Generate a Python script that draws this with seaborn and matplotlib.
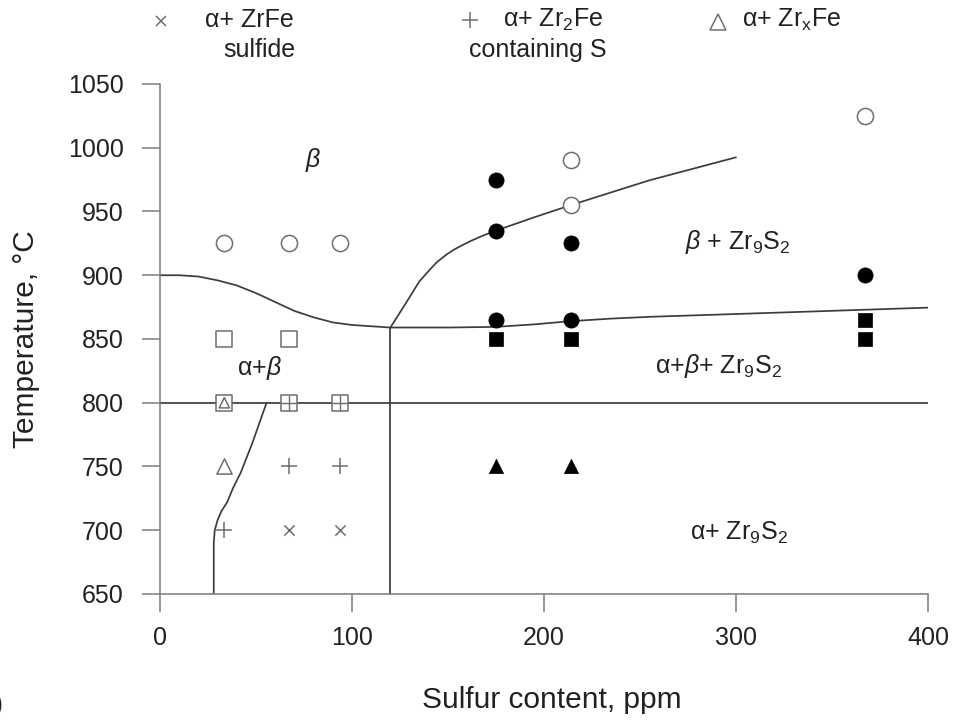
import matplotlib
matplotlib.use("Agg")
import matplotlib.pyplot as plt
from matplotlib.lines import Line2D
import seaborn as sns

# ---- phase boundaries (sulfur ppm, temperature °C) ----
beta_transus_x = [0, 10, 20, 30, 40, 50, 60, 70, 80, 90, 100, 110, 120]
beta_transus_y = [900, 900, 899, 896, 892, 886, 879, 872, 867, 863, 861, 860, 859]

eutectoid_x = [120, 150, 175, 195, 214, 235, 255, 300, 350, 400]
eutectoid_y = [859, 859, 859.5, 861.5, 864, 866, 867.4, 869.6, 872.1, 874.6]

sulfide_solvus_x = [120, 128, 135, 140, 144, 149, 153, 158, 162, 168, 175, 195, 214, 235, 255, 300]
sulfide_solvus_y = [859, 878, 895, 903.5, 910, 916, 920, 924, 927, 931, 935, 945.5, 955, 965, 974.5, 992.5]

low_s_x = [28, 28, 28.5, 30, 32, 35, 38, 42, 48, 55.5]
low_s_y = [650, 690, 700, 708, 715, 722, 733, 745, 768, 800]

vertical_x = [120, 120]
vertical_y = [650, 859]

isotherm_x = [0, 400]
isotherm_y = [800, 800]

# ---- observed phases ----
beta_x = [33.5, 67, 94, 214, 214, 367]
beta_y = [925, 925, 925, 990, 955, 1025]

alpha_beta_x = [33.5, 67, 33.5, 67, 94]
alpha_beta_y = [850, 850, 800, 800, 800]

zrxfe_x = [33.5]
zrxfe_y = [750]
zrxfe_mix_x = [33.5]
zrxfe_mix_y = [800]

zr2fe_x = [67, 94, 33.5]
zr2fe_y = [750, 750, 700]
zr2fe_mix_x = [67, 94]
zr2fe_mix_y = [800, 800]

zrfe_x = [67, 94]
zrfe_y = [700, 700]

beta_sulfide_x = [175, 175, 175, 214, 214, 367]
beta_sulfide_y = [975, 935, 865, 925, 865, 900]

ab_sulfide_x = [175, 214, 367, 367]
ab_sulfide_y = [850, 850, 865, 850]

a_sulfide_x = [175, 214]
a_sulfide_y = [750, 750]

x_ticks = [0, 100, 200, 300, 400]
y_ticks = [650, 700, 750, 800, 850, 900, 950, 1000, 1050]

# ---- style ----
sns.set_style("ticks")
plt.rcParams["font.family"] = ["Liberation Sans", "DejaVu Sans"]
plt.rcParams["mathtext.fontset"] = "custom"
plt.rcParams["mathtext.rm"] = "Liberation Sans"
plt.rcParams["mathtext.it"] = "Liberation Sans:italic"
plt.rcParams["mathtext.bf"] = "Liberation Sans:bold"

TEXT = "#222222"
GRAY = "#6e6e6e"
LINE = "#3c3c3c"
AXIS = "#7a7a7a"

fig = plt.figure(figsize=(9.54, 7.22), dpi=100)
ax = fig.add_axes([160 / 954, 1 - 594 / 722, 768 / 954, 510 / 722])

# boundaries
for bx, by in [(beta_transus_x, beta_transus_y), (eutectoid_x, eutectoid_y),
               (sulfide_solvus_x, sulfide_solvus_y), (low_s_x, low_s_y),
               (vertical_x, vertical_y), (isotherm_x, isotherm_y)]:
    sns.lineplot(x=bx, y=by, sort=False, estimator=None, color=LINE,
                 linewidth=1.25, ax=ax, zorder=2)


def dots(x, y, marker, s, face, edge, lw):
    sns.scatterplot(x=x, y=y, marker=marker, s=s, ax=ax, legend=False, zorder=4)
    pc = ax.collections[-1]
    pc.set_facecolor(face)
    pc.set_edgecolor(edge)
    pc.set_linewidth(lw)
    pc.set_clip_on(False)


# open (grey) symbols
dots(beta_x, beta_y, "o", 135, "white", GRAY, 1.1)
dots(alpha_beta_x, alpha_beta_y, "s", 140, "white", GRAY, 1.1)
dots(zrxfe_x, zrxfe_y, "^", 120, "white", GRAY, 1.1)
dots(zrxfe_mix_x, zrxfe_mix_y, "^", 55, "none", GRAY, 1.1)
dots(zr2fe_x, zr2fe_y, "+", 120, GRAY, GRAY, 1.1)
dots(zr2fe_mix_x, zr2fe_mix_y, "+", 140, GRAY, GRAY, 1.0)
dots(zrfe_x, zrfe_y, "x", 55, GRAY, GRAY, 1.1)

# filled (black) symbols
dots(beta_sulfide_x, beta_sulfide_y, "o", 120, "black", "black", 0.5)
dots(ab_sulfide_x, ab_sulfide_y, "s", 115, "black", "black", 0.5)
dots(a_sulfide_x, a_sulfide_y, "^", 105, "black", "black", 0.5)

# phase-field labels
fs_in = 18
ax.text(80, 990, r"$\beta$", fontsize=fs_in, color=TEXT, ha="center", va="center")
ax.text(52, 827, r"α+$\beta$", fontsize=fs_in, color=TEXT, ha="center", va="center")
ax.text(301, 926, r"$\beta$ + Zr$_9$S$_2$", fontsize=fs_in, color=TEXT,
        ha="center", va="center")
ax.text(291, 829, r"α+$\beta$+ Zr$_9$S$_2$", fontsize=fs_in, color=TEXT,
        ha="center", va="center")
ax.text(301.5, 698, r"α+ Zr$_9$S$_2$", fontsize=fs_in, color=TEXT,
        ha="center", va="center")

# axes
ax.set_xlim(0, 400)
ax.set_ylim(650, 1050)
ax.set_xticks(x_ticks)
ax.set_yticks(y_ticks)
ax.tick_params(axis="both", direction="out", length=13, width=1.1, color=AXIS,
               labelsize=18, labelcolor=TEXT)
ax.tick_params(axis="x", pad=10)
ax.tick_params(axis="y", pad=13)
sns.despine(ax=ax)
for side in ("left", "bottom"):
    ax.spines[side].set_color(AXIS)
    ax.spines[side].set_linewidth(1.1)

ax.set_xlabel("Sulfur content, ppm", fontsize=21.5, color=TEXT)
ax.xaxis.set_label_coords((551.7 - 160) / 768, (594 - 686) / 510)
ax.set_ylabel("Temperature, °C", fontsize=21.5, color=TEXT)
ax.yaxis.label.set_va("center")
ax.yaxis.set_label_coords((26 - 160) / 768, 0.5)

# key along the top
def fx(px):
    return px / 954


def fy(py):
    return 1 - py / 722


fs_key = 18
for mx, my, mk, ms in [(160.7, 20.7, "x", 7.5), (470, 20, "+", 11), (718, 22, "^", 11)]:
    fig.add_artist(Line2D([fx(mx)], [fy(my)], marker=mk, markersize=ms,
                          markerfacecolor="none", markeredgecolor=GRAY,
                          markeredgewidth=1.1, linestyle="none",
                          transform=fig.transFigure))

fig.text(fx(205), fy(20), "α+ ZrFe", fontsize=fs_key, color=TEXT, ha="left", va="center")
fig.text(fx(259.7), fy(50), "sulfide", fontsize=fs_key, color=TEXT, ha="center", va="center")
fig.text(fx(503), fy(20), r"α+ Zr$_2$Fe", fontsize=fs_key, color=TEXT, ha="left", va="center")
fig.text(fx(538), fy(50), "containing S", fontsize=fs_key, color=TEXT, ha="center", va="center")
fig.text(fx(742), fy(20), r"α+ Zr$_\mathrm{x}$Fe", fontsize=fs_key, color=TEXT,
         ha="left", va="center")

# panel tag at the lower left edge
fig.text(fx(3), fy(705), "(b)", fontsize=20, color=TEXT, ha="right", va="center")

fig.savefig("out.png", dpi=100)
